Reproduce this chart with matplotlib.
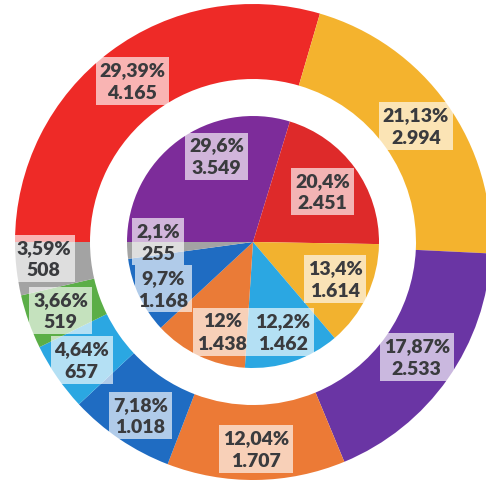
import matplotlib
matplotlib.use("Agg")
import matplotlib.pyplot as plt
import numpy as np

# Outer ring (clockwise from 9 o'clock)
outer_values = [4165, 2994, 2533, 1707, 1018, 657, 519, 508]
outer_pct = ["29,39%", "21,13%", "17,87%", "12,04%", "7,18%", "4,64%", "3,66%", "3,59%"]
outer_text = ["4.165", "2.994", "2.533", "1.707", "1.018", "657", "519", "508"]
outer_colors = ["#EE2A27", "#F4B32E", "#6A35A4", "#EC7A36",
                "#1F6CC2", "#2BA7E2", "#5BAE47", "#A3A3A3"]

# Inner pie (clockwise from 9 o'clock)
inner_values = [3549, 2451, 1614, 1462, 1438, 1168, 255]
inner_pct = ["29,6%", "20,4%", "13,4%", "12,2%", "12%", "9,7%", "2,1%"]
inner_text = ["3.549", "2.451", "1.614", "1.462", "1.438", "1.168", "255"]
inner_colors = ["#7D2C9A", "#DE2A2A", "#F2B22F", "#2BA7E2",
                "#EA7B37", "#1F6CC2", "#A3A3A3"]

W, H = 486, 485
fig = plt.figure(figsize=(W / 100, H / 100), dpi=100)
ax = fig.add_axes([0, 0, 1, 1])

cx, cy = 253, H - 243
R_out, R_hole, R_in = 238, 163, 126

ax.pie(outer_values, colors=outer_colors, startangle=180, counterclock=False,
       radius=R_out, center=(cx, cy), frame=True,
       wedgeprops=dict(width=R_out - R_hole, linewidth=0))
ax.pie(inner_values, colors=inner_colors, startangle=180, counterclock=False,
       radius=R_in, center=(cx, cy), frame=True,
       wedgeprops=dict(linewidth=0))
ax.set_xlim(0, W)
ax.set_ylim(0, H)
ax.set_aspect("equal")
ax.axis("off")

label_style = dict(ha="center", va="center", fontsize=14, fontweight="heavy",
                   family=["Lato", "DejaVu Sans"], color="#3A3B3E",
                   linespacing=1.4,
                   bbox=dict(boxstyle="square,pad=0.2", facecolor="white",
                             edgecolor="none", alpha=0.65))


def place_labels(values, pcts, texts, radii, nudges):
    vals = np.asarray(values, dtype=float)
    frac = vals / vals.sum()
    start = 180.0
    for f, p, t, r, dn in zip(frac, pcts, texts, radii, nudges):
        mid = start - f * 180.0 - dn
        start -= f * 360.0
        a = np.deg2rad(mid)
        ax.text(cx + r * np.cos(a), cy + r * np.sin(a),
                f"{p}\n{t}", **label_style)


# label radius and clockwise angular shift for each slice
place_labels(outer_values, outer_pct, outer_text,
             [201, 200, 200, 207, 207, 208, 204, 210],
             [0, 0, 0, 0, -1, 0, 0, 2])
place_labels(inner_values, inner_pct, inner_text,
             [93, 86, 90, 95, 95, 101, 95],
             [13.5, 0, -1, 0, -6.4, -2.3, 4])

fig.savefig("out.png", dpi=100)
